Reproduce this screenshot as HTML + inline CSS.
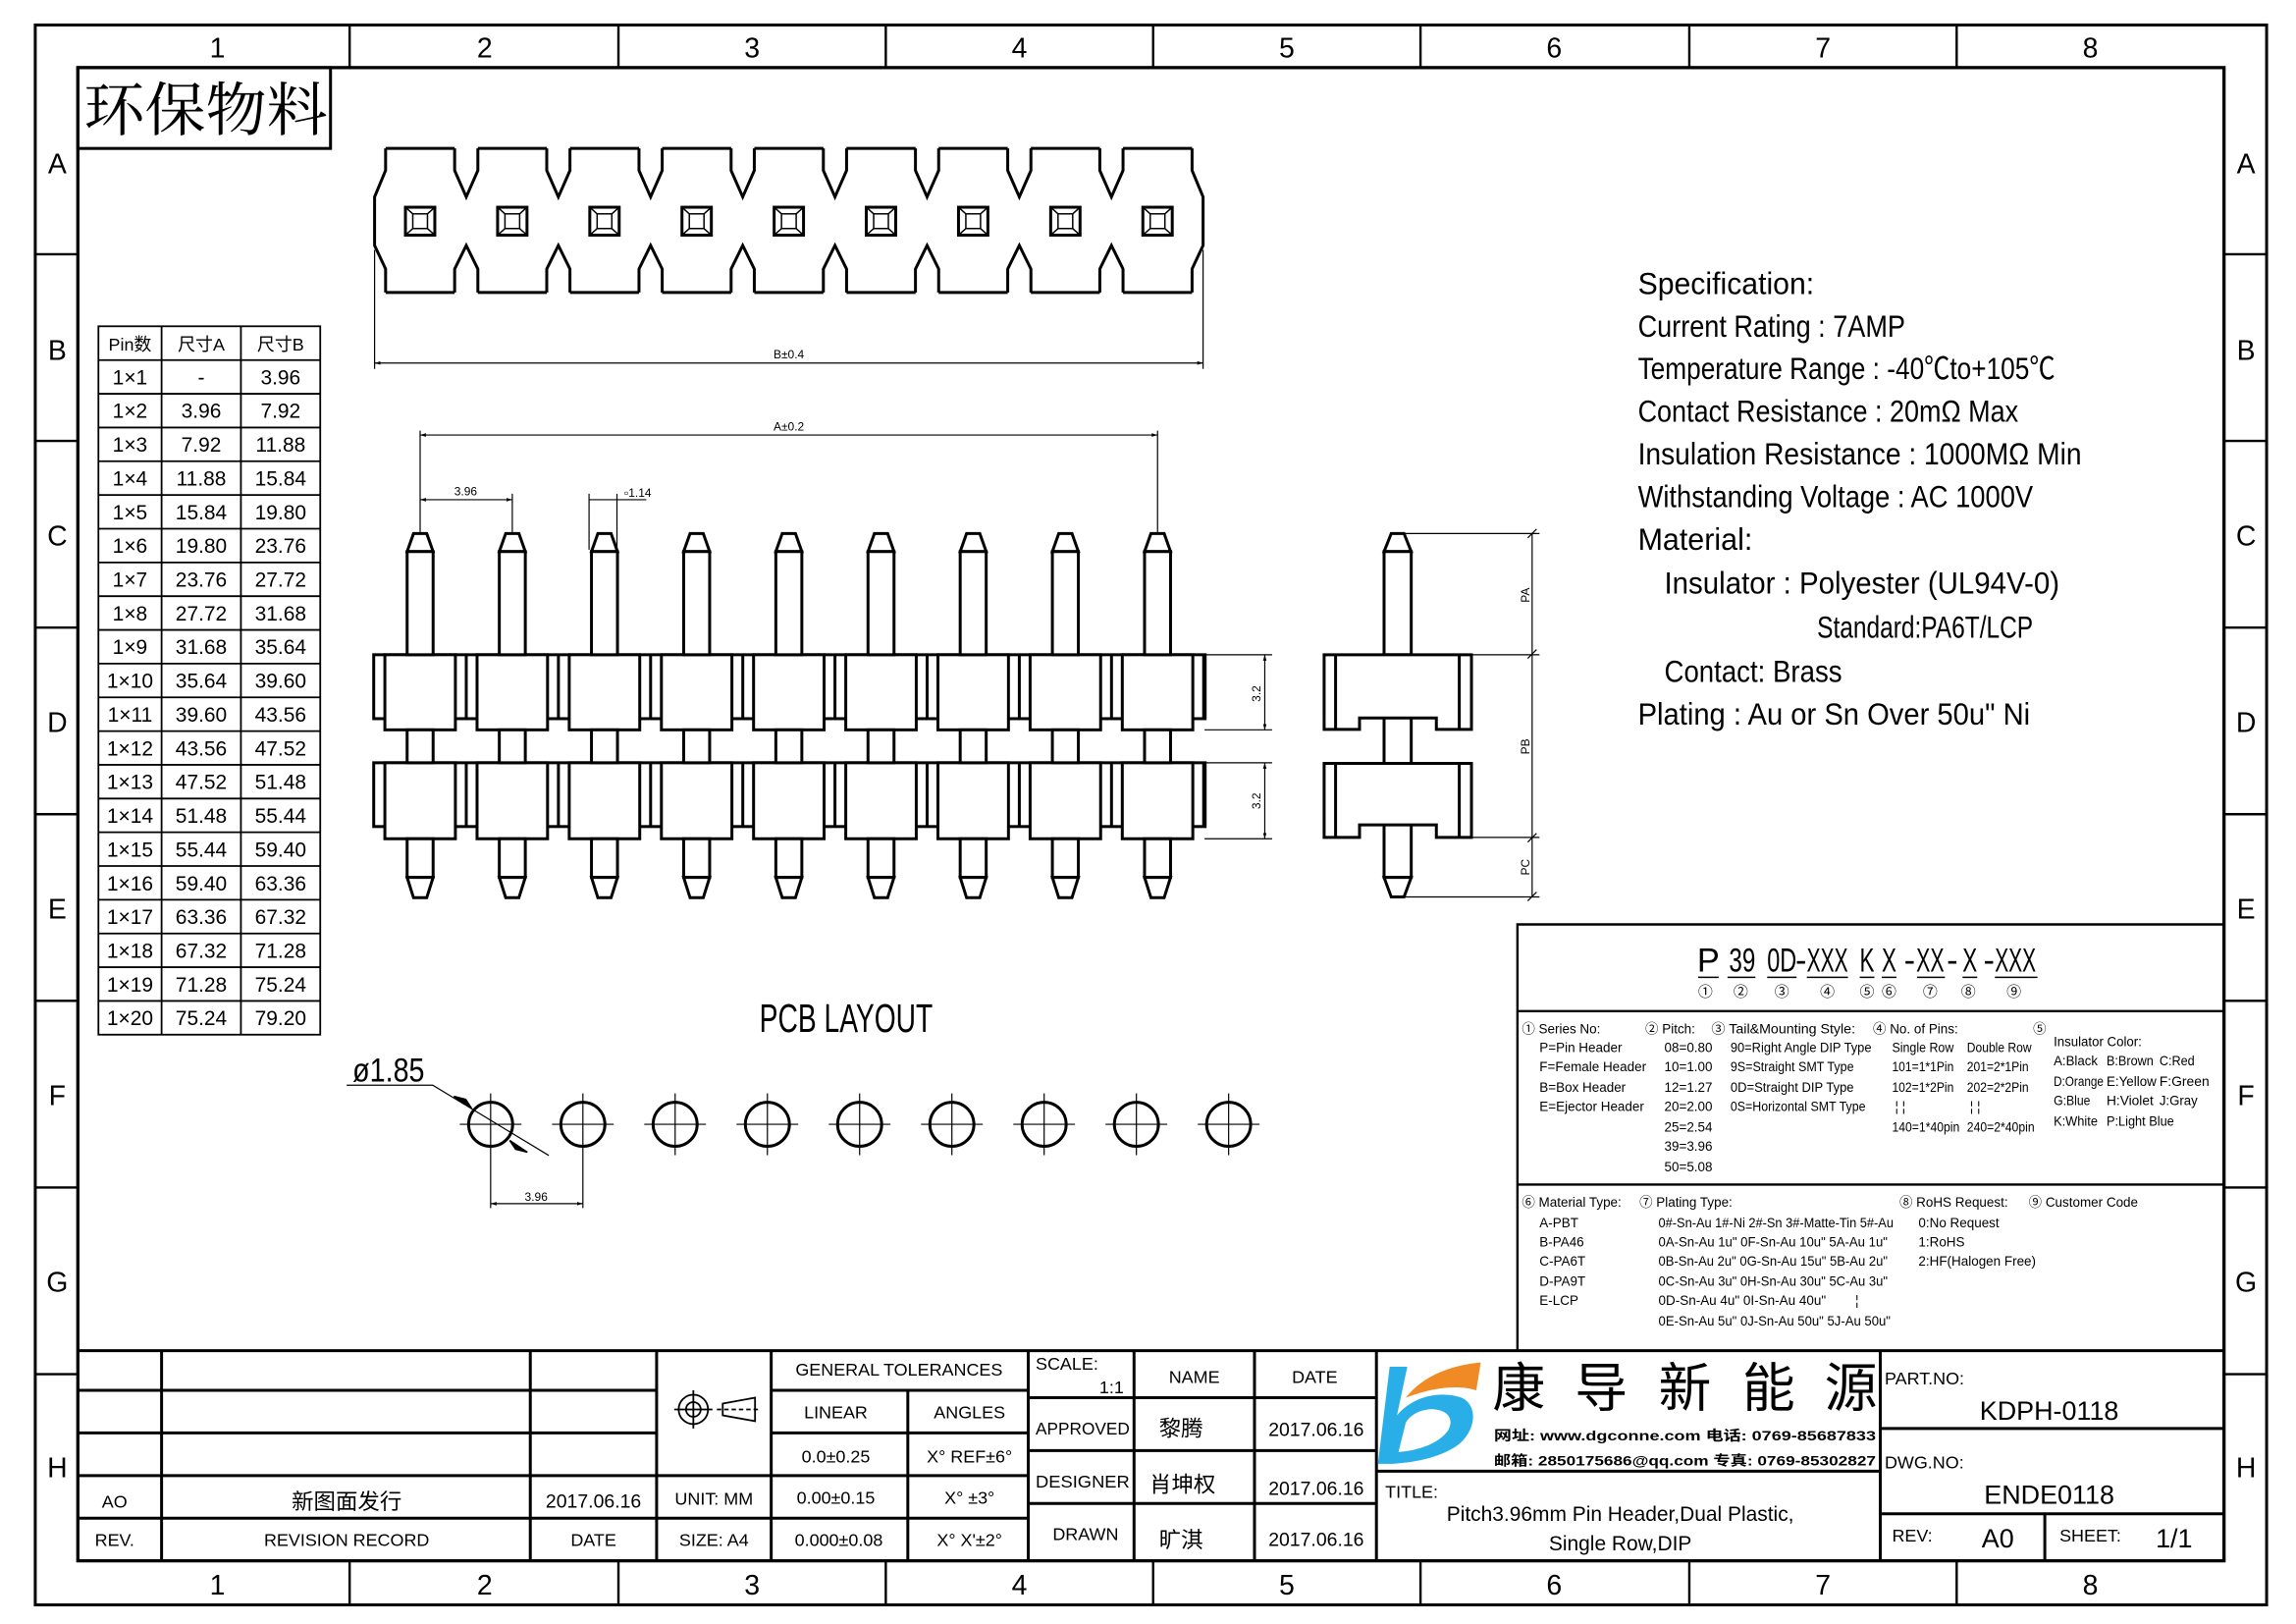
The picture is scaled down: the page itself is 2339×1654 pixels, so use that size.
<!DOCTYPE html>
<html><head><meta charset="utf-8"><style>
html,body{margin:0;padding:0;background:#fff}
svg{display:block}
text{font-family:"Liberation Sans Narrow","Liberation Sans","Noto Sans CJK SC",sans-serif;fill:#000}
.cj{font-family:"Liberation Sans","Noto Sans CJK SC",sans-serif}
.sm{font-size:9px}
</style></head><body>
<svg xmlns="http://www.w3.org/2000/svg" width="2339" height="1654" viewBox="0 0 1563 1105" preserveAspectRatio="none">
<defs>
<marker id="ar" viewBox="0 0 10 10" refX="10" refY="5" markerWidth="5" markerHeight="5" orient="auto-start-reverse"><path d="M0,2 L10,5 L0,8 Z" fill="#000"/></marker>
<g id="mod">
<line x1="-23.5" y1="101" x2="23.5" y2="101"/><line x1="-23.5" y1="199" x2="23.5" y2="199"/>
<rect x="-10" y="141" width="20" height="19" stroke-width="2"/>
<rect x="-5" y="145.5" width="10" height="10" stroke-width="1"/>
<path d="M-10,141 L-5,145.5 M10,141 L5,145.5 M-10,160 L-5,155.5 M10,160 L5,155.5" stroke-width="1"/>
</g>
<g id="gap">
<polyline points="-7.9,101 -7.9,116 0,134 7.9,116 7.9,101"/>
<polyline points="-7.9,199 -7.9,183 0,167 7.9,183 7.9,199"/>
</g>
<g id="pin">
<rect x="-24" y="445.5" width="48" height="51.1"/>
<rect x="-24" y="519" width="48" height="51.7"/>
<line x1="31.4" y1="445.5" x2="31.4" y2="489"/><line x1="31.4" y1="519" x2="31.4" y2="562.4"/>
<path d="M-4.5,363 L4.5,363 L8.85,375.3 L-8.85,375.3 Z"/>
<rect x="-8.85" y="375.3" width="17.7" height="70.2"/>
<rect x="-8.85" y="496.6" width="17.7" height="22.4"/>
<rect x="-8.85" y="570.7" width="17.7" height="26.3"/>
<path d="M-8.85,597 L8.85,597 L4.5,610.8 L-4.5,610.8 Z"/>
</g>
<g id="hole">
<circle cx="0" cy="765" r="15" stroke-width="2"/>
<path d="M-21,765 H21 M0,744 V786" stroke-width="0.8"/>
</g>
</defs>

<!-- frame -->
<g fill="none" stroke="#000">
<rect x="24" y="17" width="1519" height="1075" stroke-width="2"/>
<rect x="53" y="46" width="1461" height="1016" stroke-width="2.2"/>
<path stroke-width="1.6" d="M238,17V46M421,17V46M603,17V46M785,17V46M967,17V46M1150,17V46M1332,17V46
M238,1062V1092M421,1062V1092M603,1062V1092M785,1062V1092M967,1062V1092M1150,1062V1092M1332,1062V1092
M24,173H53M24,300H53M24,427H53M24,554H53M24,681H53M24,808H53M24,935H53
M1514,173H1543M1514,300H1543M1514,427H1543M1514,554H1543M1514,681H1543M1514,808H1543M1514,935H1543"/>
</g>
<g font-size="19" text-anchor="middle" style="font-family:'Liberation Sans',sans-serif">
<text x="148" y="39">1</text><text x="330" y="39">2</text><text x="512" y="39">3</text><text x="694" y="39">4</text><text x="876" y="39">5</text><text x="1058" y="39">6</text><text x="1241" y="39">7</text><text x="1423" y="39">8</text>
<text x="148" y="1085">1</text><text x="330" y="1085">2</text><text x="512" y="1085">3</text><text x="694" y="1085">4</text><text x="876" y="1085">5</text><text x="1058" y="1085">6</text><text x="1241" y="1085">7</text><text x="1423" y="1085">8</text>
<text x="39" y="118">A</text><text x="39" y="245">B</text><text x="39" y="371">C</text><text x="39" y="498">D</text><text x="39" y="625">E</text><text x="39" y="752">F</text><text x="39" y="879">G</text><text x="39" y="1005">H</text>
<text x="1529" y="118">A</text><text x="1529" y="245">B</text><text x="1529" y="371">C</text><text x="1529" y="498">D</text><text x="1529" y="625">E</text><text x="1529" y="752">F</text><text x="1529" y="879">G</text><text x="1529" y="1005">H</text>
</g>

<!-- 环保物料 -->
<rect x="53" y="46" width="172" height="55" fill="none" stroke="#000" stroke-width="2"/>
<text x="57" y="89" class="cj" font-size="40" textLength="166" lengthAdjust="spacingAndGlyphs" style="font-family:'Noto Serif CJK SC','Noto Sans CJK SC',serif">环保物料</text>

<!-- comb top view -->
<g fill="none" stroke="#000" stroke-width="2">
<polyline points="262.5,101 262.5,116 255,134 255,167 262.5,183 262.5,199"/>
<polyline points="811.5,101 811.5,116 819,134 819,167 811.5,183 811.5,199"/>
<use href="#mod" x="286"/><use href="#mod" x="348.75"/><use href="#mod" x="411.5"/><use href="#mod" x="474.25"/><use href="#mod" x="537"/><use href="#mod" x="599.75"/><use href="#mod" x="662.5"/><use href="#mod" x="725.25"/><use href="#mod" x="788"/>
<use href="#gap" x="317.4"/><use href="#gap" x="380.1"/><use href="#gap" x="442.9"/><use href="#gap" x="505.6"/><use href="#gap" x="568.4"/><use href="#gap" x="631.1"/><use href="#gap" x="693.9"/><use href="#gap" x="756.6"/>
</g>
<g stroke="#000" stroke-width="0.8" fill="none">
<path d="M255,170V251M819,170V251"/>
<line x1="255" y1="247" x2="819" y2="247" marker-start="url(#ar)" marker-end="url(#ar)"/>
</g>
<text x="537" y="244" font-size="8" text-anchor="middle">B±0.4</text>

<!-- side view -->
<g stroke="#000" stroke-width="0.8" fill="none">
<path d="M286,293V362M788,293V362M286,336V362M348.75,336V362M401,336V374M420,336V374M420,340H440"/>
<line x1="286" y1="296" x2="788" y2="296" marker-start="url(#ar)" marker-end="url(#ar)"/>
<line x1="286" y1="340" x2="348.75" y2="340" marker-start="url(#ar)" marker-end="url(#ar)"/>
<line x1="401" y1="340" x2="420" y2="340"/>
<path d="M820,445.5H866M820,496.6H866M820,519H866M820,570.7H866"/>
<line x1="861" y1="445.5" x2="861" y2="496.6" marker-start="url(#ar)" marker-end="url(#ar)"/>
<line x1="861" y1="519" x2="861" y2="570.7" marker-start="url(#ar)" marker-end="url(#ar)"/>
</g>
<text x="537" y="293" font-size="8" text-anchor="middle">A±0.2</text>
<text x="317" y="337" font-size="8" text-anchor="middle">3.96</text>
<text x="425" y="338" font-size="8">▫1.14</text>
<text transform="translate(858,472) rotate(-90)" font-size="8" text-anchor="middle">3.2</text>
<text transform="translate(858,545) rotate(-90)" font-size="8" text-anchor="middle">3.2</text>
<g fill="#fff" stroke="#000" stroke-width="2">
<rect x="254.4" y="445.5" width="566" height="43.5"/>
<rect x="254.4" y="519" width="566" height="43.4"/>
<use href="#pin" x="286"/><use href="#pin" x="348.75"/><use href="#pin" x="411.5"/><use href="#pin" x="474.25"/><use href="#pin" x="537"/><use href="#pin" x="599.75"/><use href="#pin" x="662.5"/><use href="#pin" x="725.25"/><use href="#pin" x="788"/>
</g>

<!-- end view -->
<g fill="#fff" stroke="#000" stroke-width="2">
<path d="M947.1,363 L955.8,363 L960.7,375.3 L942.2,375.3 Z"/>
<rect x="942.2" y="375.3" width="18.5" height="70.2"/>
<rect x="942.2" y="488" width="18.5" height="32"/>
<rect x="942.2" y="561" width="18.5" height="36"/>
<path d="M942.2,597 L960.7,597 L955.8,610.3 L947.1,610.3 Z"/>
<path d="M901.4,445.5 H1001.7 V496.3 H977.8 V488.5 H925.5 V496.3 H901.4 Z"/>
<path d="M901.4,519.4 H1001.7 V569.8 H977.8 V561.3 H925.5 V569.8 H901.4 Z"/>
<path d="M909.2,445.5V496.3M993.4,445.5V496.3M909.2,519.4V569.8M993.4,519.4V569.8" fill="none"/>
</g>
<g stroke="#000" stroke-width="0.8" fill="none">
<path d="M956,363H1048M1002,445.5H1048M1002,569.8H1048M956,610.3H1048M1043,363V610.3"/>
<path d="M1040,366l6,-6M1040,448l6,-6M1040,573l6,-6M1040,613l6,-6"/>
</g>
<text transform="translate(1041,405) rotate(-90)" font-size="8" text-anchor="middle">PA</text>
<text transform="translate(1041,508) rotate(-90)" font-size="8" text-anchor="middle">PB</text>
<text transform="translate(1041,590) rotate(-90)" font-size="8" text-anchor="middle">PC</text>

<!-- spec -->
<g font-size="21">
<text x="1115" y="200" textLength="120" lengthAdjust="spacingAndGlyphs">Specification:</text>
<text x="1115" y="229" textLength="182" lengthAdjust="spacingAndGlyphs">Current Rating : 7AMP</text>
<text x="1115" y="258" textLength="284" lengthAdjust="spacingAndGlyphs">Temperature Range : -40℃to+105℃</text>
<text x="1115" y="287" textLength="259" lengthAdjust="spacingAndGlyphs">Contact Resistance : 20mΩ Max</text>
<text x="1115" y="316" textLength="302" lengthAdjust="spacingAndGlyphs">Insulation Resistance : 1000MΩ Min</text>
<text x="1115" y="345" textLength="269" lengthAdjust="spacingAndGlyphs">Withstanding Voltage : AC 1000V</text>
<text x="1115" y="374" textLength="78" lengthAdjust="spacingAndGlyphs">Material:</text>
<text x="1133" y="404" textLength="269" lengthAdjust="spacingAndGlyphs">Insulator : Polyester (UL94V-0)</text>
<text x="1237" y="434" textLength="147" lengthAdjust="spacingAndGlyphs">Standard:PA6T/LCP</text>
<text x="1133" y="464" textLength="121" lengthAdjust="spacingAndGlyphs">Contact: Brass</text>
<text x="1115" y="493" textLength="267" lengthAdjust="spacingAndGlyphs">Plating : Au or Sn Over 50u" Ni</text>
</g>

<!-- left table -->
<g fill="none" stroke="#000" stroke-width="1.2">
<rect x="67" y="222" width="151" height="482"/>
<path d="M110,222V704M164,222V704M67,245H218"/>
<path d="M67,267.95H218M67,290.9H218M67,313.85H218M67,336.8H218M67,359.75H218M67,382.7H218M67,405.65H218M67,428.6H218M67,451.55H218M67,474.5H218M67,497.45H218M67,520.4H218M67,543.35H218M67,566.3H218M67,589.25H218M67,612.2H218M67,635.15H218M67,658.1H218M67,681.05H218"/>
</g>
<g font-size="14" text-anchor="middle">
<text x="88.5" y="238.5" class="cj" font-size="12">Pin数</text><text x="137" y="238.5" class="cj" font-size="12">尺寸A</text><text x="191" y="238.5" class="cj" font-size="12">尺寸B</text>
<text x="88.5" y="261.5">1×1</text><text x="137" y="261.5">-</text><text x="191" y="261.5">3.96</text>
<text x="88.5" y="284.4">1×2</text><text x="137" y="284.4">3.96</text><text x="191" y="284.4">7.92</text>
<text x="88.5" y="307.4">1×3</text><text x="137" y="307.4">7.92</text><text x="191" y="307.4">11.88</text>
<text x="88.5" y="330.3">1×4</text><text x="137" y="330.3">11.88</text><text x="191" y="330.3">15.84</text>
<text x="88.5" y="353.3">1×5</text><text x="137" y="353.3">15.84</text><text x="191" y="353.3">19.80</text>
<text x="88.5" y="376.2">1×6</text><text x="137" y="376.2">19.80</text><text x="191" y="376.2">23.76</text>
<text x="88.5" y="399.2">1×7</text><text x="137" y="399.2">23.76</text><text x="191" y="399.2">27.72</text>
<text x="88.5" y="422.1">1×8</text><text x="137" y="422.1">27.72</text><text x="191" y="422.1">31.68</text>
<text x="88.5" y="445.1">1×9</text><text x="137" y="445.1">31.68</text><text x="191" y="445.1">35.64</text>
<text x="88.5" y="468">1×10</text><text x="137" y="468">35.64</text><text x="191" y="468">39.60</text>
<text x="88.5" y="491">1×11</text><text x="137" y="491">39.60</text><text x="191" y="491">43.56</text>
<text x="88.5" y="514">1×12</text><text x="137" y="514">43.56</text><text x="191" y="514">47.52</text>
<text x="88.5" y="536.9">1×13</text><text x="137" y="536.9">47.52</text><text x="191" y="536.9">51.48</text>
<text x="88.5" y="559.9">1×14</text><text x="137" y="559.9">51.48</text><text x="191" y="559.9">55.44</text>
<text x="88.5" y="582.8">1×15</text><text x="137" y="582.8">55.44</text><text x="191" y="582.8">59.40</text>
<text x="88.5" y="605.8">1×16</text><text x="137" y="605.8">59.40</text><text x="191" y="605.8">63.36</text>
<text x="88.5" y="628.7">1×17</text><text x="137" y="628.7">63.36</text><text x="191" y="628.7">67.32</text>
<text x="88.5" y="651.7">1×18</text><text x="137" y="651.7">67.32</text><text x="191" y="651.7">71.28</text>
<text x="88.5" y="674.6">1×19</text><text x="137" y="674.6">71.28</text><text x="191" y="674.6">75.24</text>
<text x="88.5" y="697.6">1×20</text><text x="137" y="697.6">75.24</text><text x="191" y="697.6">79.20</text>
</g>

<!-- PCB layout -->
<text x="517" y="702" font-size="27" textLength="118" lengthAdjust="spacingAndGlyphs">PCB LAYOUT</text>
<text x="240" y="736" font-size="23" textLength="49" lengthAdjust="spacingAndGlyphs">ø1.85</text>
<g fill="none" stroke="#000">
<use href="#hole" x="334"/><use href="#hole" x="396.8"/><use href="#hole" x="459.6"/><use href="#hole" x="522.4"/><use href="#hole" x="585.2"/><use href="#hole" x="648"/><use href="#hole" x="710.8"/><use href="#hole" x="773.6"/><use href="#hole" x="836.4"/>
<g stroke-width="0.8">
<path d="M236,738.4H294.6L373.6,786.2"/>
<path d="M334,786V822M396.8,786V822"/>
<line x1="334" y1="819" x2="396.8" y2="819" marker-start="url(#ar)" marker-end="url(#ar)"/>
</g>
<path d="M309,746 L321,754 L317,748 Z M359,784 L347,776 L351,782 Z" fill="#000" stroke="#000" stroke-width="1"/>
</g>
<text x="365" y="817" font-size="8" text-anchor="middle">3.96</text>

<!-- part number box -->
<g fill="none" stroke="#000" stroke-width="1.6">
<path d="M1033,919V629H1514M1033,688H1514M1033,806H1514"/>
<path stroke-width="1" d="M1156,665H1170M1176,665H1195M1203,665H1223M1230,665H1258M1266,665H1276M1281,665H1291M1305,665H1324M1336,665H1346M1358,665H1387"/>
</g>
<g font-size="23" text-anchor="middle">
<text x="1163" y="661">P</text>
<text x="1186" y="661" textLength="18" lengthAdjust="spacingAndGlyphs">39</text>
<text x="1213" y="661" textLength="20" lengthAdjust="spacingAndGlyphs">0D</text>
<text x="1226" y="661">-</text>
<text x="1244" y="661" textLength="28" lengthAdjust="spacingAndGlyphs">XXX</text>
<text x="1271" y="661" textLength="10" lengthAdjust="spacingAndGlyphs">K</text>
<text x="1286" y="661" textLength="10" lengthAdjust="spacingAndGlyphs">X</text>
<text x="1300" y="661">-</text>
<text x="1314" y="661" textLength="19" lengthAdjust="spacingAndGlyphs">XX</text>
<text x="1329" y="661">-</text>
<text x="1341" y="661" textLength="10" lengthAdjust="spacingAndGlyphs">X</text>
<text x="1354" y="661">-</text>
<text x="1372" y="661" textLength="28" lengthAdjust="spacingAndGlyphs">XXX</text>
</g>
<g font-size="10" text-anchor="middle">
<text x="1161" y="678">①</text><text x="1185" y="678">②</text><text x="1213" y="678">③</text><text x="1244" y="678">④</text><text x="1271" y="678">⑤</text><text x="1286" y="678">⑥</text><text x="1314" y="678">⑦</text><text x="1340" y="678">⑧</text><text x="1371" y="678">⑨</text>
</g>
<g class="sm">
<text x="1036" y="703">① Series No:</text>
<text x="1048" y="716">P=Pin Header</text><text x="1048" y="729">F=Female Header</text><text x="1048" y="743">B=Box Header</text><text x="1048" y="756">E=Ejector Header</text>
<text x="1120" y="703">② Pitch:</text>
<text x="1133" y="716">08=0.80</text><text x="1133" y="729">10=1.00</text><text x="1133" y="743">12=1.27</text><text x="1133" y="756">20=2.00</text><text x="1133" y="770">25=2.54</text><text x="1133" y="783">39=3.96</text><text x="1133" y="797">50=5.08</text>
<text x="1165" y="703" textLength="98" lengthAdjust="spacingAndGlyphs">③ Tail&amp;Mounting Style:</text>
<text x="1178" y="716" textLength="96" lengthAdjust="spacingAndGlyphs">90=Right Angle DIP Type</text><text x="1178" y="729" textLength="84" lengthAdjust="spacingAndGlyphs">9S=Straight SMT Type</text><text x="1178" y="743" textLength="84" lengthAdjust="spacingAndGlyphs">0D=Straight DIP Type</text><text x="1178" y="756" textLength="92" lengthAdjust="spacingAndGlyphs">0S=Horizontal SMT Type</text>
<text x="1275" y="703">④ No. of Pins:</text>
<text x="1288" y="716" textLength="42" lengthAdjust="spacingAndGlyphs">Single Row</text><text x="1339" y="716" textLength="44" lengthAdjust="spacingAndGlyphs">Double Row</text>
<text x="1288" y="729" textLength="42" lengthAdjust="spacingAndGlyphs">101=1*1Pin</text><text x="1339" y="729" textLength="42" lengthAdjust="spacingAndGlyphs">201=2*1Pin</text>
<text x="1288" y="743" textLength="42" lengthAdjust="spacingAndGlyphs">102=1*2Pin</text><text x="1339" y="743" textLength="42" lengthAdjust="spacingAndGlyphs">202=2*2Pin</text>
<text x="1290" y="756">¦  ¦</text><text x="1341" y="756">¦  ¦</text>
<text x="1288" y="770" textLength="46" lengthAdjust="spacingAndGlyphs">140=1*40pin</text><text x="1339" y="770" textLength="46" lengthAdjust="spacingAndGlyphs">240=2*40pin</text>
<text x="1384" y="703">⑤</text>
<text x="1398" y="712" textLength="60" lengthAdjust="spacingAndGlyphs">Insulator Color:</text>
<text x="1398" y="725" textLength="30" lengthAdjust="spacingAndGlyphs">A:Black</text><text x="1434" y="725" textLength="32" lengthAdjust="spacingAndGlyphs">B:Brown</text><text x="1470" y="725" textLength="24" lengthAdjust="spacingAndGlyphs">C:Red</text>
<text x="1398" y="739" textLength="34" lengthAdjust="spacingAndGlyphs">D:Orange</text><text x="1434" y="739" textLength="34" lengthAdjust="spacingAndGlyphs">E:Yellow</text><text x="1470" y="739" textLength="34" lengthAdjust="spacingAndGlyphs">F:Green</text>
<text x="1398" y="752" textLength="25" lengthAdjust="spacingAndGlyphs">G:Blue</text><text x="1434" y="752" textLength="32" lengthAdjust="spacingAndGlyphs">H:Violet</text><text x="1470" y="752" textLength="26" lengthAdjust="spacingAndGlyphs">J:Gray</text>
<text x="1398" y="766" textLength="30" lengthAdjust="spacingAndGlyphs">K:White</text><text x="1434" y="766" textLength="46" lengthAdjust="spacingAndGlyphs">P:Light Blue</text>
<text x="1036" y="821">⑥ Material Type:</text>
<text x="1048" y="835">A-PBT</text><text x="1048" y="848">B-PA46</text><text x="1048" y="861">C-PA6T</text><text x="1048" y="875">D-PA9T</text><text x="1048" y="888">E-LCP</text>
<text x="1116" y="821">⑦ Plating Type:</text>
<text x="1129" y="835" textLength="160" lengthAdjust="spacingAndGlyphs">0#-Sn-Au 1#-Ni 2#-Sn 3#-Matte-Tin 5#-Au</text>
<text x="1129" y="848" textLength="156" lengthAdjust="spacingAndGlyphs">0A-Sn-Au 1u" 0F-Sn-Au 10u"  5A-Au 1u"</text>
<text x="1129" y="861" textLength="156" lengthAdjust="spacingAndGlyphs">0B-Sn-Au 2u" 0G-Sn-Au 15u"  5B-Au 2u"</text>
<text x="1129" y="875" textLength="156" lengthAdjust="spacingAndGlyphs">0C-Sn-Au 3u" 0H-Sn-Au 30u"  5C-Au 3u"</text>
<text x="1129" y="888" textLength="114" lengthAdjust="spacingAndGlyphs">0D-Sn-Au 4u" 0I-Sn-Au 40u"</text><text x="1263" y="888">¦</text>
<text x="1129" y="902" textLength="158" lengthAdjust="spacingAndGlyphs">0E-Sn-Au 5u" 0J-Sn-Au 50u"  5J-Au 50u"</text>
<text x="1293" y="821">⑧ RoHS Request:</text>
<text x="1306" y="835">0:No Request</text><text x="1306" y="848">1:RoHS</text><text x="1306" y="861">2:HF(Halogen Free)</text>
<text x="1381" y="821">⑨ Customer Code</text>
</g>

<!-- title block -->
<g fill="none" stroke="#000" stroke-width="2">
<path d="M53,919H1514"/>
<path d="M53,946H447M53,975H447M53,1004H525M53,1033H525"/>
<path d="M110,919V1062M361,919V1062M447,919V1062M525,919V1062M700,919V1062M618,946V1062"/>
<path d="M525,946H700M525,975H700M525,1004H700M525,1033H700"/>
<path d="M700,951H937M700,987H937M700,1023H937M772,919V1062M854,919V1062M937,919V1062"/>
<path d="M937,1001H1280M1280,919V1062M1280,972H1514M1280,1030H1514M1392,1030V1062"/>
</g>
<g fill="none" stroke="#000" stroke-width="1.2">
<circle cx="472" cy="959" r="10"/><circle cx="472" cy="959" r="5"/>
<path d="M459,959H485M472,946V972"/>
<path d="M492,955L514,951V967L492,963Z"/><path d="M488,959H518" stroke-dasharray="3,2"/>
</g>
<g font-size="12" text-anchor="middle">
<text x="612" y="936">GENERAL TOLERANCES</text>
<text x="569" y="965">LINEAR</text><text x="660" y="965">ANGLES</text>
<text x="569" y="995">0.0±0.25</text><text x="660" y="995">X° REF±6°</text>
<text x="569" y="1023">0.00±0.15</text><text x="660" y="1023">X° ±3°</text>
<text x="571" y="1052">0.000±0.08</text><text x="660" y="1052">X° X'±2°</text>
<text x="813" y="941">NAME</text><text x="895" y="941">DATE</text>
<text x="737" y="976" textLength="64" lengthAdjust="spacingAndGlyphs">APPROVED</text><text x="737" y="1012" textLength="64" lengthAdjust="spacingAndGlyphs">DESIGNER</text><text x="739" y="1048">DRAWN</text>
<text x="804" y="977" class="cj" font-size="15">黎腾</text><text x="805" y="1015" class="cj" font-size="15">肖坤权</text><text x="804" y="1053" class="cj" font-size="15">旷淇</text>
<text x="896" y="977" font-size="13">2017.06.16</text><text x="896" y="1017" font-size="13">2017.06.16</text><text x="896" y="1052" font-size="13">2017.06.16</text>
<text x="78" y="1026">AO</text><text x="236" y="1027" class="cj" font-size="15">新图面发行</text><text x="404" y="1026" font-size="13">2017.06.16</text>
<text x="78" y="1052">REV.</text><text x="236" y="1052">REVISION RECORD</text><text x="404" y="1052">DATE</text>
<text x="486" y="1024">UNIT: MM</text><text x="486" y="1052">SIZE: A4</text>
</g>
<text x="705" y="932" font-size="12">SCALE:</text><text x="765" y="948" font-size="12" text-anchor="end">1:1</text>

<!-- logo -->
<path d="M946,930 L958,930 L951,963 C962,950 980,946 995,951 C1006,956 1005,972 994,982 C983,991 965,995 948,996 L938,996 Z M957,968 L952,988 C966,987 980,982 986,973 C991,963 982,958 972,959 C965,960 960,963 957,968 Z" fill="#29aee8"/>
<path d="M957,951 C967,938 985,929 1008,927 L1005,946 C993,942 975,944 957,951 Z" fill="#f08a24"/>
<g class="cj" font-size="36" text-anchor="middle" style="font-family:'Noto Serif CJK SC','Noto Sans CJK SC',serif">
<text x="1034" y="957">康</text><text x="1090" y="957">导</text><text x="1147" y="957">新</text><text x="1204" y="957">能</text><text x="1260" y="957">源</text>
</g>
<g class="cj" font-size="9.5" font-weight="bold">
<text x="1017" y="980" textLength="260" lengthAdjust="spacingAndGlyphs">网址: www.dgconne.com  电话: 0769-85687833</text>
<text x="1017" y="997" textLength="260" lengthAdjust="spacingAndGlyphs">邮箱: 2850175686@qq.com 专真: 0769-85302827</text>
</g>
<text x="943" y="1019" font-size="12">TITLE:</text>
<g font-size="14" text-anchor="middle">
<text x="1103" y="1035">Pitch3.96mm Pin Header,Dual Plastic,</text>
<text x="1103" y="1055">Single Row,DIP</text>
</g>
<text x="1283" y="942" font-size="12">PART.NO:</text>
<text x="1395" y="966" font-size="18" text-anchor="middle">KDPH-0118</text>
<text x="1283" y="999" font-size="12">DWG.NO:</text>
<text x="1395" y="1023" font-size="18" text-anchor="middle">ENDE0118</text>
<text x="1288" y="1049" font-size="12">REV:</text>
<text x="1360" y="1053" font-size="18" text-anchor="middle">A0</text>
<text x="1402" y="1049" font-size="12">SHEET:</text>
<text x="1480" y="1053" font-size="18" text-anchor="middle">1/1</text>
</svg>
</body></html>
